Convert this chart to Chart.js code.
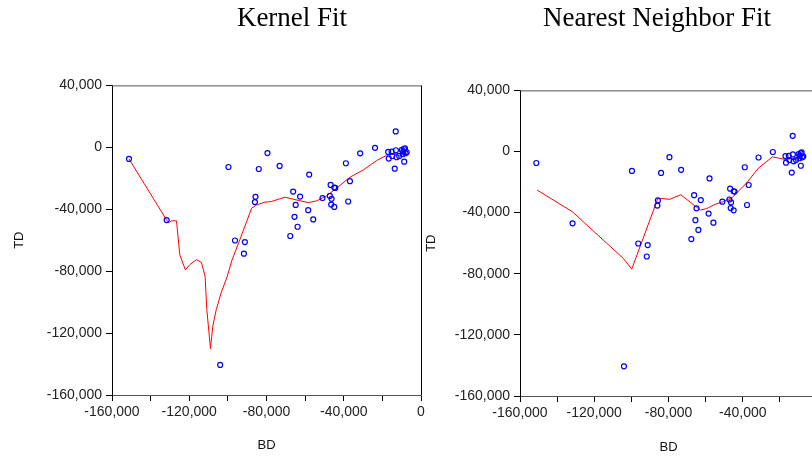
<!DOCTYPE html>
<html>
<head>
<meta charset="utf-8">
<script src="https://cdn.jsdelivr.net/npm/chart.js@4"></script>
<style>
  html, body { margin: 0; padding: 0; background: #fff; overflow: hidden; }
  body { width: 812px; height: 457px; position: relative; }
  .box { position: absolute; top: 0; height: 457px; }
</style>
</head>
<body>
<div class="box" id="leftBox" style="left:0;width:584px"><canvas id="kernel"></canvas></div>
<div class="box" id="rightBox" style="left:420px;width:474px"><canvas id="nearest"></canvas></div>
<script>
// observed data (BD, TD)
var bd = [-151200, -131700, -99700, -79500, -84000, -73200, -57900, -85700, -86000, -96300,
  -91200, -91700, -66200, -62600, -64900, -65500, -63900, -67700, -58400, -55800,
  -51000, -46800, -44900, -44400, -47200, -46300, -46500, -44900, -37700, -36800,
  -38900, -31500, -23800, -13100, -17000, -15200, -13000, -16700, -14900, -12600,
  -11300, -13600, -9900, -8800, -8300, -9200, -7400, -8700, -8000, -9500, -104000];
var td = [-7500, -47000, -12700, -3700, -14000, -12000, -17600, -32000, -35400, -60200,
  -61200, -68700, -28600, -31800, -37200, -44900, -51300, -57300, -40600, -46600,
  -32800, -24300, -26000, -26200, -31400, -33300, -37000, -38500, -35000, -21900,
  -10300, -3900, -300, 10300, -3000, -2800, -1900, -7300, -5600, -6400,
  -5600, -13800, -1700, -1100, -600, -2800, -3200, -9300, -3800, -4400, -140600];

// kernel fit curve
var kernelBD = [-151200, -131700, -130600, -129400, -126600, -124900, -122000, -119700, -116300, -113700,
  -111800, -110900, -109000, -107800, -106000, -103500, -100300, -97800, -93800, -87700,
  -85100, -80800, -77400, -70500, -66200, -58400, -54100, -48900, -43700, -36800,
  -29900, -23000, -17800, -13500, -9200, -7100];
var kernelTD = [-7500, -47000, -48700, -47500, -47500, -69400, -79200, -75800, -72600, -74300,
  -83300, -104800, -130100, -115500, -104800, -94000, -83300, -72600, -59700, -39300,
  -37200, -35400, -35000, -32200, -33500, -35700, -34600, -31400, -26400, -19300,
  -14600, -8600, -5200, -4100, -3900, -3900];

// nearest neighbor fit curve
var nnBD = [-150800, -131800, -104300, -99800, -85800, -83900, -79400, -73400, -66800, -62800,
  -59500, -55000, -50500, -45600, -37800, -31600, -24000, -17100, -12600, -8900];
var nnTD = [-25200, -39400, -70000, -77000, -30900, -30700, -31300, -28300, -34600, -38300,
  -37400, -34600, -32800, -30000, -20400, -10900, -3500, -5200, -4600, -3700];

var xTicks = [-160000, -120000, -80000, -40000, 0];
var yTicks = [40000, 0, -40000, -80000, -120000, -160000];

function pairs(xs, ys) {
  return xs.map(function (x, i) { return { x: x, y: ys[i] }; });
}

function fmt(v) {
  return v.toLocaleString('en-US');
}

var frame = {
  id: 'frame',
  afterDraw: function (chart) {
    var a = chart.chartArea, ctx = chart.ctx;
    ctx.save();
    ctx.lineWidth = 1;
    ctx.strokeStyle = '#555';
    ctx.beginPath();
    ctx.moveTo(a.left, a.top + 0.5);
    ctx.lineTo(a.right, a.top + 0.5);
    ctx.stroke();
    ctx.strokeStyle = '#000';
    ctx.beginPath();
    ctx.moveTo(Math.round(a.right) + 0.5, a.top);
    ctx.lineTo(Math.round(a.right) + 0.5, a.bottom);
    ctx.stroke();
    ctx.restore();
  }
};

function makeChart(id, title, lineBD, lineTD, geo) {
  var tickFont = { family: 'Liberation Sans', size: 14 };
  return new Chart(document.getElementById(id), {
    type: 'scatter',
    data: {
      datasets: [{
        label: 'TD',
        data: pairs(bd, td),
        pointStyle: 'circle',
        pointRadius: 2.5,
        pointBorderWidth: 1.2,
        pointBackgroundColor: 'rgba(0,0,0,0)',
        pointBorderColor: 'rgb(0, 0, 255)'
      }, {
        label: 'fit',
        type: 'line',
        data: pairs(lineBD, lineTD),
        borderColor: 'rgb(255, 0, 0)',
        borderWidth: 1,
        pointRadius: 0,
        tension: 0,
        fill: false
      }]
    },
    options: {
      responsive: true,
      maintainAspectRatio: false,
      animation: false,
      events: [],
      layout: { padding: 0 },
      plugins: {
        legend: { display: false },
        tooltip: { enabled: false },
        title: {
          display: true,
          text: title,
          color: '#000',
          font: { family: 'Liberation Serif', size: 27, weight: 'normal' },
          padding: { top: 3, bottom: geo.titleBottom }
        }
      },
      scales: {
        x: {
          type: 'linear',
          min: -160000,
          max: 0,
          afterFit: function (s) { s.height = geo.xHeight; },
          afterBuildTicks: function (s) {
            s.ticks = [];
            for (var v = -160000; v <= 0; v += 20000) s.ticks.push({ value: v });
          },
          ticks: {
            autoSkip: false,
            maxRotation: 0,
            color: '#222',
            font: tickFont,
            padding: 3,
            callback: function (v) { return xTicks.indexOf(v) >= 0 ? fmt(v) : ''; }
          },
          grid: { drawOnChartArea: false, drawTicks: true, tickLength: 6, color: '#000' },
          border: { display: true, color: '#555' },
          title: {
            display: true, text: 'BD', color: '#111',
            font: { family: 'Liberation Sans', size: 13 },
            padding: { top: 0, bottom: geo.bdPad }
          }
        },
        y: {
          type: 'linear',
          min: -160000,
          max: 40000,
          afterFit: function (s) { s.width = geo.yWidth; },
          afterBuildTicks: function (s) {
            s.ticks = yTicks.map(function (v) { return { value: v }; });
          },
          ticks: {
            autoSkip: false,
            color: '#222',
            font: tickFont,
            padding: 4,
            callback: function (v) { return fmt(v); }
          },
          grid: { drawOnChartArea: false, drawTicks: true, tickLength: 6, color: '#000' },
          border: { display: true, color: '#000' },
          title: {
            display: true, text: 'TD', color: '#111',
            font: { family: 'Liberation Sans', size: 13 },
            padding: { top: geo.tdPad, bottom: 0 }
          }
        },
        // empty spacer on the right so the title centres over the whole canvas
        gap: {
          type: 'linear',
          position: 'right',
          display: true,
          afterFit: function (s) { s.width = geo.right; },
          ticks: { display: false },
          grid: { display: false },
          border: { display: false }
        }
      }
    },
    plugins: [frame]
  });
}

makeChart('kernel', 'Kernel Fit', kernelBD, kernelTD,
  { right: 163, titleBottom: 50, xHeight: 62, yWidth: 112, bdPad: 4, tdPad: 12 });
makeChart('nearest', 'Nearest Neighbor Fit', nnBD, nnTD,
  { right: 77, titleBottom: 55, xHeight: 61, yWidth: 100, bdPad: 2, tdPad: 4 });
</script>
</body>
</html>
